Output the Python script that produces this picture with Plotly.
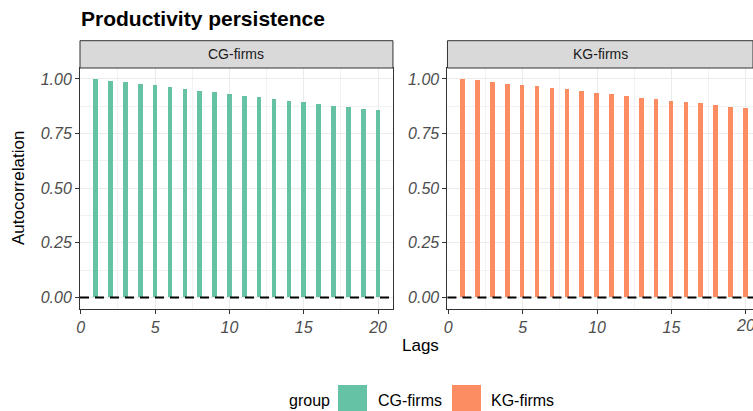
import plotly.graph_objects as go

# ---- data ----
lags = list(range(1, 21))
cg_acf = [1.000, 0.992, 0.985, 0.977, 0.970, 0.962, 0.954, 0.947, 0.939, 0.932,
          0.924, 0.916, 0.909, 0.901, 0.894, 0.886, 0.878, 0.871, 0.863, 0.856]
kg_acf = [1.000, 0.994, 0.987, 0.979, 0.973, 0.966, 0.958, 0.952, 0.944, 0.937,
          0.930, 0.923, 0.915, 0.909, 0.901, 0.894, 0.888, 0.880, 0.873, 0.865]
groups = ["CG-firms", "KG-firms"]
colors = ["#66C2A5", "#FC8D62"]
y_ticks = [0, 0.25, 0.5, 0.75, 1.0]
y_ticklabels = ["0.00", "0.25", "0.50", "0.75", "1.00"]
x_ticks = [0, 5, 10, 15, 20]

W, H = 753, 411
L, R, T, B = 80, 0, 68, 102
PW = W - L - R
PH = H - T - B


def px_x(x):
    return (x - L) / PW


def px_y(y):
    return (H - B - y) / PH


FONT = "Liberation Sans, Arial, sans-serif"
TICKFONT = dict(family=FONT, size=16, color="#4D4D4D", style="italic")

fig = go.Figure()
series = [cg_acf, kg_acf]
for i, (g, vals, c) in enumerate(zip(groups, series, colors)):
    fig.add_trace(go.Bar(
        x=lags, y=vals, width=0.31, marker=dict(color=c, line=dict(width=0)),
        name=g, showlegend=False,
        xaxis="x" if i == 0 else "x2", yaxis="y" if i == 0 else "y2",
    ))

axis_common = dict(
    showgrid=True, gridcolor="#EBEBEB", gridwidth=1.1,
    zeroline=False, showline=True, linecolor="#333333", linewidth=1,
    mirror=True, ticks="outside", ticklen=4, tickcolor="#333333", tickwidth=1,
    tickfont=TICKFONT,
)
minor_x = dict(dtick=2.5, tick0=0, showgrid=True, gridcolor="#F2F2F2", gridwidth=0.6)
minor_y = dict(dtick=0.125, tick0=0, showgrid=True, gridcolor="#F2F2F2", gridwidth=0.6)

xr1 = [-0.05, 21.0]
xr2 = [-0.05, 20.48]
fig.update_layout(
    width=W, height=H,
    margin=dict(l=L, r=R, t=T, b=B),
    paper_bgcolor="white", plot_bgcolor="white",
    bargap=0,
    xaxis=dict(domain=[0, 0.465], range=xr1, tickvals=x_ticks, anchor="y",
               minor=minor_x, **axis_common),
    xaxis2=dict(domain=[0.546, 1.0], range=xr2, tickvals=x_ticks, anchor="y2",
                minor=minor_x, **axis_common),
    yaxis=dict(domain=[0, 1], range=[-0.053, 1.05], tickvals=y_ticks,
               ticktext=y_ticklabels, anchor="x", minor=minor_y, **axis_common),
    yaxis2=dict(domain=[0, 1], range=[-0.053, 1.05], tickvals=y_ticks,
                ticktext=y_ticklabels, anchor="x2", minor=minor_y, **axis_common),
    showlegend=False,
)

shapes = []
annotations = []
strip_top = px_y(40.7)
for i, g in enumerate(groups):
    xa = "x" if i == 0 else "x2"
    ya = "y" if i == 0 else "y2"
    # dashed zero line
    shapes.append(dict(type="line", xref=f"{xa} domain", yref=ya, x0=0, x1=1, y0=0, y1=0,
                       line=dict(color="black", width=2, dash="9px,6px"), layer="above"))
    # strip
    shapes.append(dict(type="rect", xref=f"{xa} domain", yref="paper", x0=0, x1=1,
                       y0=1, y1=strip_top, fillcolor="#D9D9D9",
                       line=dict(color="#333333", width=1)))
    annotations.append(dict(xref=f"{xa} domain", yref="paper", x=0.5, y=(1 + strip_top) / 2,
                            text=g, showarrow=False, xanchor="center", yanchor="middle",
                            font=dict(family=FONT, size=14, color="#1A1A1A")))

# last tick label of the right panel (cut off by the page edge)
annotations.append(dict(xref="x2", yref="paper", x=x_ticks[-1], y=px_y(325),
                        text=str(x_ticks[-1]), showarrow=False, xanchor="center",
                        yanchor="middle", font=TICKFONT))

# title
annotations.append(dict(xref="paper", yref="paper", x=px_x(79), y=px_y(18), text="<b>Productivity persistence</b>",
                        showarrow=False, xanchor="left", yanchor="middle",
                        font=dict(family=FONT, size=21, color="black")))
# axis titles
annotations.append(dict(xref="paper", yref="paper", x=px_x(420), y=px_y(345), text="Lags",
                        showarrow=False, xanchor="center", yanchor="middle",
                        font=dict(family=FONT, size=17, color="black")))
annotations.append(dict(xref="paper", yref="paper", x=px_x(18), y=px_y(188), text="Autocorrelation",
                        showarrow=False, xanchor="center", yanchor="middle", textangle=-90,
                        font=dict(family=FONT, size=17, color="black")))
# legend (manual)
annotations.append(dict(xref="paper", yref="paper", x=px_x(287), y=px_y(400), text="group",
                        showarrow=False, xanchor="left", yanchor="middle",
                        font=dict(family=FONT, size=16, color="black")))
key_x = [338, 452]
lab_x = [376, 489]
for kx, lx, g, c in zip(key_x, lab_x, groups, colors):
    shapes.append(dict(type="rect", xref="paper", yref="paper", x0=px_x(kx), x1=px_x(kx + 29),
                       y0=px_y(385), y1=px_y(414), fillcolor=c, line=dict(width=0)))
    annotations.append(dict(xref="paper", yref="paper", x=px_x(lx), y=px_y(400), text=g,
                            showarrow=False, xanchor="left", yanchor="middle",
                            font=dict(family=FONT, size=16, color="black")))

fig.update_layout(shapes=shapes, annotations=annotations)
fig.write_html("out.html")
